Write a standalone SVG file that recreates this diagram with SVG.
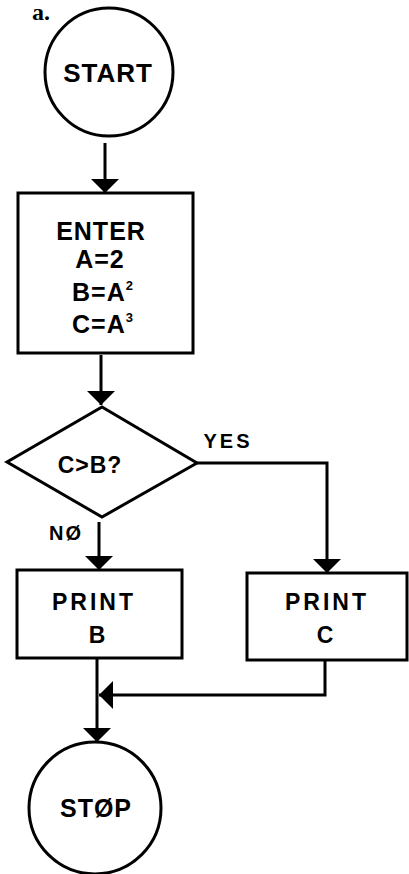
<svg xmlns="http://www.w3.org/2000/svg" width="409" height="874" viewBox="0 0 409 874">
<style>
.shape{fill:none;stroke:#000;stroke-width:3}
.conn{fill:none;stroke:#000;stroke-width:3}
.t{font-family:"Liberation Sans",Arial,sans-serif;font-weight:bold;fill:#000;text-anchor:middle}
</style>
<defs>
<marker id="arr" viewBox="0 0 14 28" refX="14" refY="14" markerWidth="14" markerHeight="28" markerUnits="userSpaceOnUse" orient="auto">
<path d="M0,0 L14,14 L0,28 Z" fill="#000"/>
</marker>
</defs>
<rect width="409" height="874" fill="#fff"/>
<text x="32" y="20" font-family="Liberation Serif,serif" font-weight="bold" font-size="24" fill="#000">a.</text>
<g id="start">
<circle class="shape" cx="109" cy="72" r="64"/>
<text class="t" x="108" y="82" font-size="26" letter-spacing="1">START</text>
</g>
<g id="enter">
<rect class="shape" x="18" y="193" width="175" height="160"/>
<text class="t" x="101" y="240" font-size="25" letter-spacing="1">ENTER</text>
<text class="t" x="100" y="268" font-size="25" letter-spacing="1">A=2</text>
<text class="t" x="103" y="301" font-size="25" letter-spacing="1">B=A<tspan font-size="13" dy="-11">2</tspan></text>
<text class="t" x="103" y="333" font-size="25" letter-spacing="1">C=A<tspan font-size="13" dy="-11">3</tspan></text>
</g>
<g id="decision">
<polygon class="shape" points="102,407 197,463 102,517 7,462"/>
<text class="t" x="90" y="473" font-size="23" letter-spacing="1">C&gt;B?</text>
</g>
<g id="printB">
<rect class="shape" x="17" y="570" width="165" height="88"/>
<text class="t" x="94" y="610" font-size="23" letter-spacing="3">PRINT</text>
<text class="t" x="97" y="643" font-size="23">B</text>
</g>
<g id="printC">
<rect class="shape" x="247" y="573" width="160" height="87"/>
<text class="t" x="327" y="610" font-size="23" letter-spacing="3">PRINT</text>
<text class="t" x="325" y="643" font-size="23">C</text>
</g>
<g id="stop">
<circle class="shape" cx="95" cy="808" r="66"/>
<text class="t" x="96" y="817" font-size="25" letter-spacing="1">STØP</text>
</g>
<g id="connectors">
<path class="conn" d="M105,143 V193" marker-end="url(#arr)"/>
<path class="conn" d="M101,355 V405" marker-end="url(#arr)"/>
<path class="conn" d="M197,463 H327 V573" marker-end="url(#arr)"/>
<path class="conn" d="M99,522 V570" marker-end="url(#arr)"/>
<path class="conn" d="M97,658 V742" marker-end="url(#arr)"/>
<path class="conn" d="M325,660 V695 H99" marker-end="url(#arr)"/>
<text class="t" x="228" y="448" font-size="20" letter-spacing="3">YES</text>
<text class="t" x="66" y="540" font-size="20" letter-spacing="2">NØ</text>
</g>
</svg>
